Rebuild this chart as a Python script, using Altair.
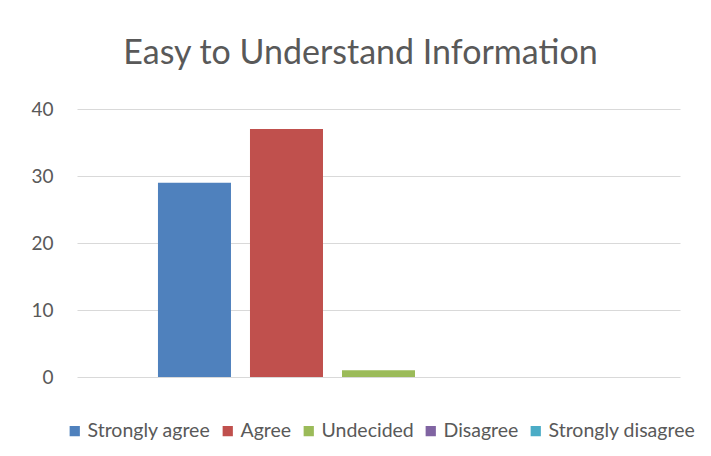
import altair as alt
import pandas as pd

responses = ["Strongly agree", "Agree", "Undecided", "Disagree", "Strongly disagree"]
counts = [29, 37, 1, 0, 0]
colors = ["#4F81BD", "#C0504D", "#9BBB59", "#8064A2", "#4BACC6"]
y_ticks = [0, 10, 20, 30, 40]

df = pd.DataFrame({"response": responses, "count": counts})

chart = alt.Chart(df).mark_bar().encode(
    x=alt.X("response:N", sort=responses, axis=None,
            scale=alt.Scale(paddingInner=0.2065, paddingOuter=0.88)),
    y=alt.Y("count:Q", scale=alt.Scale(domain=[0, 40], nice=False),
            axis=alt.Axis(values=y_ticks, title=None, domain=False, ticks=False,
                          labelPadding=24, labelFontSize=19, labelColor="#595959",
                          labelFont="Lato", gridColor="#D9D9D9", gridWidth=1.2)),
    color=alt.Color("response:N", sort=responses,
                    scale=alt.Scale(domain=responses, range=colors),
                    legend=alt.Legend(title=None, orient="none", direction="horizontal",
                                      legendX=-12, legendY=312, symbolType="square",
                                      symbolSize=105, symbolStrokeWidth=0,
                                      labelFontSize=19.5, labelFont="Lato",
                                      labelColor="#595959", columnPadding=7,
                                      symbolOffset=0, labelOffset=3)),
).properties(
    width=603,
    height=268,
    padding={"left": 69, "top": 101, "right": 23, "bottom": 71},
    autosize=alt.AutoSizeParams(type="none"),
    title=alt.TitleParams("Easy to Understand Information", fontSize=34, font="Lato",
                          fontWeight="normal", color="#595959", anchor="middle",
                          frame="group", offset=29, dx=-18),
).configure(background="white", view=alt.ViewConfig(strokeWidth=0, stroke="transparent"))

chart.save("out.html", embed_options={"renderer": "svg", "actions": False})
